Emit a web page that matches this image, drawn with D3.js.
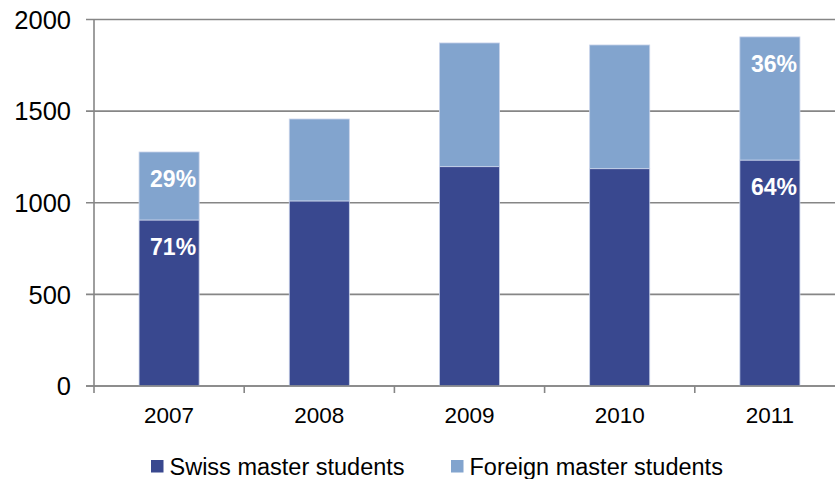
<!DOCTYPE html>
<html>
<head>
<meta charset="utf-8">
<script src="https://cdn.jsdelivr.net/npm/d3@7"></script>
<style>
  body { margin: 0; background: #fff; }
  svg { display: block; font-family: "Liberation Sans", Arial, sans-serif; }
</style>
</head>
<body>
<div id="chart"></div>
<script>
// values
var years = ["2007", "2008", "2009", "2010", "2011"];
var swiss = [906, 1010, 1197, 1186, 1233];
var foreign = [371, 447, 675, 675, 672];
var yTicks = [0, 500, 1000, 1500, 2000];
var seriesNames = ["Swiss master students", "Foreign master students"];
var seriesColors = ["#39488f", "#82a4ce"];
// percentage labels: [year index, series, text]
var pctLabels = [[0, 0, "71%"], [0, 1, "29%"], [4, 0, "64%"], [4, 1, "36%"]];

var width = 835, height = 479;
var x0 = 94, y0 = 386, yTop = 19.5;

var svg = d3.select("#chart").append("svg")
    .attr("width", width)
    .attr("height", height);

var x = d3.scaleBand()
    .domain(years)
    .range([x0, x0 + 5 * 150.2])
    .paddingInner(0.6)
    .paddingOuter(0.3);

var y = d3.scaleLinear()
    .domain([0, 2000])
    .range([y0, yTop]);

// gridlines
svg.append("g").selectAll("line")
    .data(yTicks)
    .enter().append("line")
    .attr("x1", 86).attr("x2", width)
    .attr("y1", function(d) { return y(d); })
    .attr("y2", function(d) { return y(d); })
    .attr("stroke", "#868686")
    .attr("stroke-width", 1.6);

// y tick labels
svg.append("g").selectAll("text")
    .data(yTicks)
    .enter().append("text")
    .attr("x", 71)
    .attr("y", function(d) { return y(d); })
    .attr("dy", "0.36em")
    .attr("text-anchor", "end")
    .style("font-size", "25.5px")
    .attr("fill", "#000")
    .text(function(d) { return d; });

// stacked bars
var stackData = years.map(function(yr, i) { return { year: yr, s: swiss[i], f: foreign[i] }; });
var layers = d3.stack().keys(["s", "f"])(stackData);

svg.append("g").selectAll("g")
    .data(layers)
    .enter().append("g")
    .attr("fill", function(d, i) { return seriesColors[i]; })
    .selectAll("rect")
    .data(function(d) { return d; })
    .enter().append("rect")
    .attr("x", function(d) { return x(d.data.year); })
    .attr("width", x.bandwidth())
    .attr("y", function(d) { return y(d[1]); })
    .attr("height", function(d) { return y(d[0]) - y(d[1]); })
    .attr("stroke", "#c9d3ea")
    .attr("stroke-width", 0.8);

// axis lines
svg.append("line")
    .attr("x1", x0).attr("x2", x0)
    .attr("y1", yTop).attr("y2", y0 + 7)
    .attr("stroke", "#868686").attr("stroke-width", 1.6);
svg.append("line")
    .attr("x1", 86).attr("x2", width)
    .attr("y1", y0).attr("y2", y0)
    .attr("stroke", "#868686").attr("stroke-width", 1.6);

// x ticks between categories
svg.append("g").selectAll("line")
    .data(years.slice(1))
    .enter().append("line")
    .attr("x1", function(d) { return x(d) - (x.step() - x.bandwidth()) / 2; })
    .attr("x2", function(d) { return x(d) - (x.step() - x.bandwidth()) / 2; })
    .attr("y1", y0).attr("y2", y0 + 7)
    .attr("stroke", "#868686").attr("stroke-width", 1.6);

// x labels
svg.append("g").selectAll("text")
    .data(years)
    .enter().append("text")
    .attr("x", function(d) { return x(d) + x.bandwidth() / 2; })
    .attr("y", 423)
    .attr("text-anchor", "middle")
    .style("font-size", "22.5px")
    .attr("fill", "#000")
    .text(function(d) { return d; });

// percent labels
svg.append("g").selectAll("text")
    .data(pctLabels)
    .enter().append("text")
    .attr("x", function(d) { return x(years[d[0]]) + x.bandwidth() / 2 + 4; })
    .attr("y", function(d) { return y(layers[d[1]][d[0]][1]) + 35; })
    .attr("text-anchor", "middle")
    .style("font-size", "23px")
    .style("font-weight", "bold")
    .attr("fill", "#fff")
    .text(function(d) { return d[2]; });

// legend
var legendX = [151, 451];
var lg = svg.append("g").selectAll("g")
    .data(seriesNames)
    .enter().append("g")
    .attr("transform", function(d, i) { return "translate(" + legendX[i] + ",460)"; });
lg.append("rect")
    .attr("width", 12.5).attr("height", 12.5)
    .attr("fill", function(d, i) { return seriesColors[i]; });
lg.append("text")
    .attr("x", 18.5)
    .attr("y", 14.5)
    .style("font-size", "23.5px")
    .attr("fill", "#000")
    .text(function(d) { return d; });
</script>
</body>
</html>
